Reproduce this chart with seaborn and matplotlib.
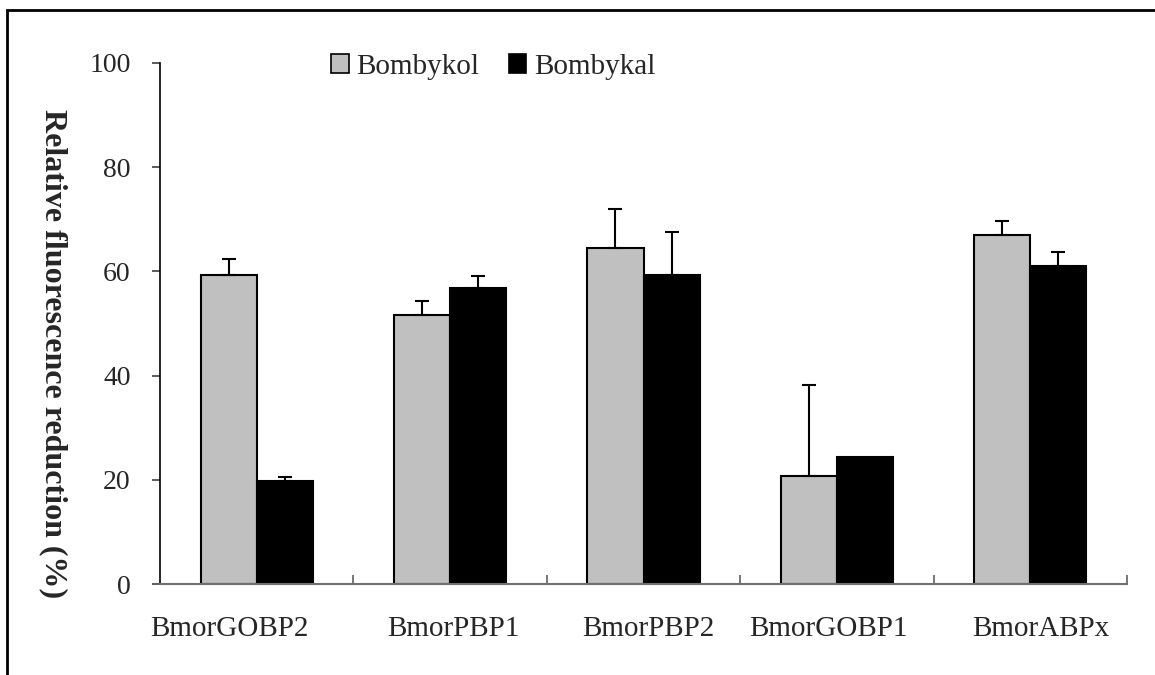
import matplotlib
matplotlib.use("Agg")
import matplotlib.pyplot as plt
import matplotlib.transforms as mtransforms
import seaborn as sns
import pandas as pd
import numpy as np
from matplotlib.patches import Rectangle, Patch

categories = ["BmorGOBP2", "BmorPBP1", "BmorPBP2", "BmorGOBP1", "BmorABPx"]
series = ["Bombykol", "Bombykal"]
bombykol = [59.3, 51.7, 64.5, 20.8, 66.9]
bombykol_err = [3.1, 2.7, 7.5, 17.3, 2.8]
bombykal = [19.8, 56.9, 59.3, 24.3, 61.1]
bombykal_err = [0.7, 2.3, 8.3, 0.0, 2.7]
yticks = [0, 20, 40, 60, 80, 100]

# horizontal nudges (pixels) of the category labels, as laid out in the original
label_nudge_px = [-27, 3, 4.5, -8, 11]

sns.set_theme(style="white")
plt.rcParams['font.family'] = ['Liberation Serif', 'DejaVu Serif']

df = pd.DataFrame({
    "protein": categories * 2,
    "value": bombykol + bombykal,
    "ligand": [series[0]] * len(categories) + [series[1]] * len(categories),
})

fig = plt.figure(figsize=(11.55, 6.75), dpi=100)
ax = fig.add_axes([160/1155, 1-584/675, (1127-160)/1155, (584-63)/675])

colors = {"Bombykol": "#c0c0c0", "Bombykal": "#000000"}
sns.barplot(data=df, x="protein", y="value", hue="ligand", order=categories,
            hue_order=series, palette=colors, width=0.58, errorbar=None,
            edgecolor="black", linewidth=1.5, ax=ax, legend=False)

errs = [bombykol_err, bombykal_err]
for cont, err in zip(ax.containers, errs):
    for bar, e in zip(cont, err):
        if e <= 0:
            continue
        xc = bar.get_x() + bar.get_width() / 2
        h = bar.get_height()
        ax.errorbar([xc], [h], yerr=[[0], [e]], fmt="none", ecolor="black",
                    elinewidth=1.5, capsize=4.7, capthick=1.5, zorder=3)

ax.set_ylim(0, 100)
ax.set_xlim(-0.5, len(categories) - 0.5)
ax.set_yticks(yticks)
ax.set_yticklabels([str(t) for t in yticks], fontsize=20)
ax.set_xlabel("")
ax.set_ylabel("")
ax.tick_params(axis="y", which="major", direction="out", length=6, width=1.2,
               color="#404040", left=True, pad=15)
ax.set_xticks(range(len(categories)))
ax.set_xticklabels(categories, fontsize=21)
ax.tick_params(axis="x", which="major", length=0, pad=23)
ax.set_xticks([i + 0.5 for i in range(len(categories))], minor=True)
ax.tick_params(axis="x", which="minor", direction="in", length=6.5, width=1.2,
               color="#606060", bottom=True)

for lab, dx in zip(ax.get_xticklabels(), label_nudge_px):
    lab.set_transform(lab.get_transform() +
                      mtransforms.ScaledTranslation(dx / 100, 0, fig.dpi_scale_trans))

for s in ["top", "right"]:
    ax.spines[s].set_visible(False)
ax.spines["left"].set_color("black")
ax.spines["left"].set_linewidth(1.2)
ax.spines["bottom"].set_color("#707070")
ax.spines["bottom"].set_linewidth(1.5)
ax.spines["bottom"].set_bounds(-0.5, len(categories) - 0.5)

fig.text(53/1155, 1-354/675, "Relative fluorescence reduction (%)", rotation=270,
         ha="center", va="center", fontsize=23, fontweight="bold")

handles = [Patch(facecolor=colors[s], edgecolor="black", linewidth=1.2, label=s) for s in series]
fig.legend(handles=handles, loc="center left", bbox_to_anchor=(331/1155, 1-67/675),
           frameon=False, fontsize=21, ncol=2, handlelength=0.6, handleheight=0.6,
           handletextpad=0.28, columnspacing=1.0, borderpad=0, borderaxespad=0)

fig.patches.append(Rectangle((7/1155, -0.1), 1.2, 1-10/675+0.1, transform=fig.transFigure,
                             fill=False, edgecolor="black", linewidth=2, clip_on=False))

fig.savefig("out.png", dpi=100, facecolor="white")
